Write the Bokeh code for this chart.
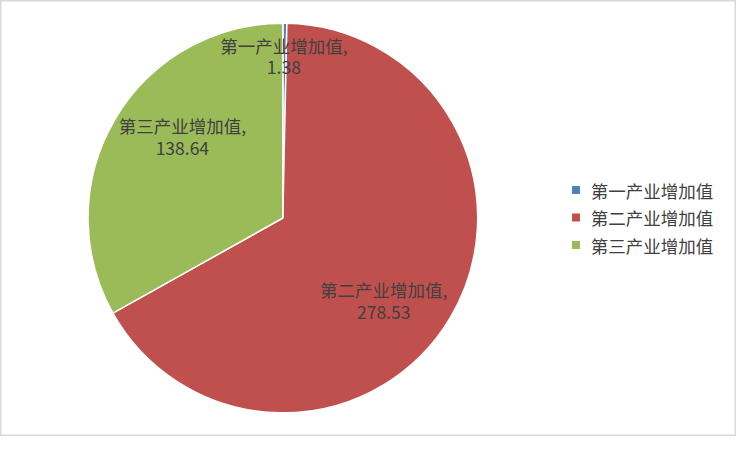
import math
from bokeh.plotting import figure
from bokeh.models import ColumnDataSource, Range1d
from bokeh.core.properties import value
from bokeh.embed import file_html
from bokeh.resources import INLINE

# ---- data ----
categories = ["第一产业增加值", "第二产业增加值", "第三产业增加值"]
values = [1.38, 278.53, 138.64]
colors = ["#4f81bd", "#c0504d", "#9bbb59"]

# ---- layout (measured on the 752x452 reference, scaled to the figure) ----
W, H = 736, 436
REF_W, REF_H = 752, 452
SX, SY = W / REF_W, H / REF_H
FONT = "Noto Sans CJK SC"
TEXT_COLOR = "#404040"
FONT_SIZE = "17.5px"
cx_s, cy_s, radius_s = 288.5, 225.5, 200.5
# label first-line centres (reference pixels)
label_pos = [(289.5, 46.5), (391.5, 300.0), (185.8, 130.0)]
line_gap = 23.0
legend_x_s, legend_y0_s, legend_dy = 588.0, 196.5, 28.5
legend_text_x_s = 603.0


def dx(xs):
    return xs * SX


def dy(ys):
    return H - ys * SY


total = sum(values)
starts, ends = [], []
acc = 0.0
for v in values:
    starts.append(math.pi / 2 - acc / total * 2 * math.pi)
    acc += v
    ends.append(math.pi / 2 - acc / total * 2 * math.pi)

p = figure(width=W, height=H, x_range=Range1d(0, W), y_range=Range1d(0, H),
           output_backend="svg", toolbar_location=None,
           x_axis_type=None, y_axis_type=None, min_border=0)
p.grid.visible = False
p.outline_line_color = "#d9d9d9"
p.outline_line_width = 2
p.background_fill_color = "white"
p.border_fill_color = "white"

radius = radius_s * (SX + SY) / 2
src = ColumnDataSource(dict(
    x=[dx(cx_s)] * len(values), y=[dy(cy_s)] * len(values),
    start=starts, end=ends, color=colors, cat=categories))
p.wedge(x="x", y="y", radius=radius, start_angle="start", end_angle="end",
        direction="clock", fill_color="color", line_color="white",
        line_width=1.5, source=src)

# data labels
l1x, l1y, l2y, t1, t2 = [], [], [], [], []
for cat, v, (lx, ly_) in zip(categories, values, label_pos):
    l1x.append(dx(lx))
    l1y.append(dy(ly_))
    l2y.append(dy(ly_ + line_gap))
    t1.append(cat + ",")
    t2.append(f"{v:.2f}")
p.text(x=l1x, y=l1y, text=t1, text_font=value(FONT), text_font_size=FONT_SIZE,
       text_color=TEXT_COLOR, text_align="center", text_baseline="middle")
p.text(x=l1x, y=l2y, text=t2, text_font=value(FONT), text_font_size=FONT_SIZE,
       text_color=TEXT_COLOR, text_align="center", text_baseline="middle")

# legend
ly = [dy(legend_y0_s + i * legend_dy) for i in range(len(categories))]
p.scatter(x=[dx(legend_x_s)] * len(categories), y=ly, marker="square",
          size=8, fill_color=colors, line_color=None)
p.text(x=[dx(legend_text_x_s)] * len(categories), y=ly, text=categories,
       text_font=value(FONT), text_font_size=FONT_SIZE, text_color=TEXT_COLOR,
       text_align="left", text_baseline="middle")

open("out.html", "w").write(file_html(p, INLINE))
